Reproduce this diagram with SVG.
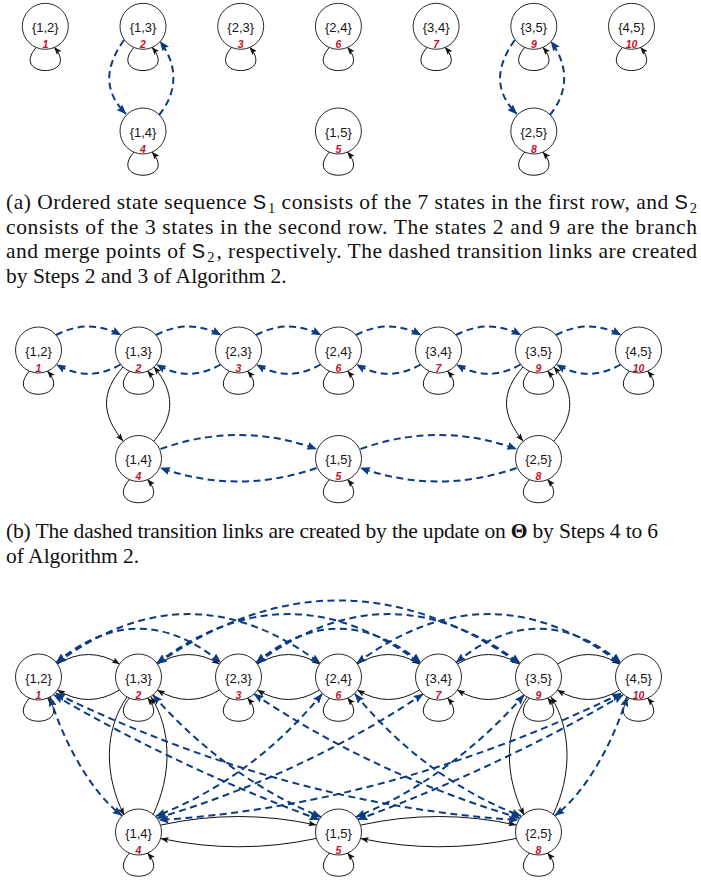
<svg xmlns="http://www.w3.org/2000/svg" xmlns:xlink="http://www.w3.org/1999/xlink" width="701" height="884" viewBox="0 0 701 884">
  <style>
    .st circle { fill: #fff; stroke: #2b2b2b; stroke-width: 1; }
    .lbl { font-family: "Liberation Sans", Arial, sans-serif; font-size: 13px; text-anchor: middle; fill: #151515; }
    .num { font-family: "Liberation Sans", Arial, sans-serif; font-size: 10.5px; font-weight: bold; font-style: italic; text-anchor: middle; fill: #c8102e; }
    .sl { fill: none; stroke: #111; stroke-width: 1; marker-end: url(#ah); }
    .dl { fill: none; stroke: #0b3c82; stroke-width: 2; stroke-dasharray: 7 4.5; marker-end: url(#bh); }
    .dl2 { fill: none; stroke: #0b3c82; stroke-width: 2; stroke-dasharray: 7 4.5; marker-start: url(#bh); marker-end: url(#bh); }
    .cap { font-family: "Liberation Serif", "Times New Roman", serif; font-size: 21.5px; fill: #111; }
    .sf { font-family: "Liberation Sans", Arial, sans-serif; font-size: 20px; }
    .sub { font-size: 14.5px; }
  </style>
  <defs>
    <marker id="ah" viewBox="0 0 8 6" refX="7.6" refY="3" markerWidth="8" markerHeight="6" markerUnits="userSpaceOnUse" orient="auto">
      <path d="M0,0 L8,3 L0,6 L1.6,3 z" fill="#111"/>
    </marker>
    <marker id="bh" viewBox="0 0 10 8" refX="9.5" refY="4" markerWidth="10" markerHeight="8" markerUnits="userSpaceOnUse" orient="auto-start-reverse">
      <path d="M0,0 L10,4 L0,8 L1.5,4 z" fill="#0b3c82"/>
    </marker>
    <!-- self transition drawn below a state, relative to its centre -->
    <path id="loop" d="M-9,21 C-36,52 36,52 9,21" fill="none" stroke="#111" stroke-width="1" marker-end="url(#ah)"/>
  </defs>

  <!-- ===================== (a) ===================== -->
  <g id="a-states" class="st">
    <g id="a-s1" transform="translate(45.3,26.3)"><circle r="23"/><text class="lbl" y="5.5">{1,2}</text><text class="num" y="21.5">1</text></g>
    <g id="a-s2" transform="translate(143,26.3)"><circle r="23"/><text class="lbl" y="5.5">{1,3}</text><text class="num" y="21.5">2</text></g>
    <g id="a-s3" transform="translate(240.7,26.3)"><circle r="23"/><text class="lbl" y="5.5">{2,3}</text><text class="num" y="21.5">3</text></g>
    <g id="a-s6" transform="translate(338.4,26.3)"><circle r="23"/><text class="lbl" y="5.5">{2,4}</text><text class="num" y="21.5">6</text></g>
    <g id="a-s7" transform="translate(436.1,26.3)"><circle r="23"/><text class="lbl" y="5.5">{3,4}</text><text class="num" y="21.5">7</text></g>
    <g id="a-s9" transform="translate(533.8,26.3)"><circle r="23"/><text class="lbl" y="5.5">{3,5}</text><text class="num" y="21.5">9</text></g>
    <g id="a-s10" transform="translate(631.5,26.3)"><circle r="23"/><text class="lbl" y="5.5">{4,5}</text><text class="num" y="21.5">10</text></g>
    <g id="a-s4" transform="translate(143,131)"><circle r="23"/><text class="lbl" y="5.5">{1,4}</text><text class="num" y="21.5">4</text></g>
    <g id="a-s5" transform="translate(338.4,131)"><circle r="23"/><text class="lbl" y="5.5">{1,5}</text><text class="num" y="21.5">5</text></g>
    <g id="a-s8" transform="translate(533.8,131)"><circle r="23"/><text class="lbl" y="5.5">{2,5}</text><text class="num" y="21.5">8</text></g>
  </g>
  <g id="a-links">
    <use xlink:href="#loop" href="#loop" x="45.3" y="26.3"/>
    <use xlink:href="#loop" href="#loop" x="143" y="26.3"/>
    <use xlink:href="#loop" href="#loop" x="240.7" y="26.3"/>
    <use xlink:href="#loop" href="#loop" x="338.4" y="26.3"/>
    <use xlink:href="#loop" href="#loop" x="436.1" y="26.3"/>
    <use xlink:href="#loop" href="#loop" x="533.8" y="26.3"/>
    <use xlink:href="#loop" href="#loop" x="631.5" y="26.3"/>
    <use xlink:href="#loop" href="#loop" x="143" y="131"/>
    <use xlink:href="#loop" href="#loop" x="338.4" y="131"/>
    <use xlink:href="#loop" href="#loop" x="533.8" y="131"/>
    <path class="dl" d="M124,40 C104,68 104,92 126,114"/>
    <path class="dl" d="M159,115 C178,92 178,65 160,41.5"/>
    <path class="dl" d="M514.8,40 C494.8,68 494.8,92 516.8,114"/>
    <path class="dl" d="M549.8,115 C568.8,92 568.8,65 550.8,41.5"/>
  </g>
  <g id="caption-a" class="cap">
    <text x="6" y="209" textLength="691" lengthAdjust="spacing">(a) Ordered state sequence <tspan class="sf">S</tspan><tspan class="sub" dx="1.5" dy="4">1</tspan><tspan dy="-4"> consists of the 7 states in the first row, and </tspan><tspan class="sf">S</tspan><tspan class="sub" dx="1.5" dy="4">2</tspan></text>
    <text x="6" y="233.5" textLength="691" lengthAdjust="spacing">consists of the 3 states in the second row. The states 2 and 9 are the branch</text>
    <text x="6" y="258" textLength="691" lengthAdjust="spacing">and merge points of <tspan class="sf">S</tspan><tspan class="sub" dx="1.5" dy="4">2</tspan><tspan dx="1.5" dy="-4">, respectively. The dashed transition links are created</tspan></text>
    <text x="6" y="282.5">by Steps 2 and 3 of Algorithm 2.</text>
  </g>

  <!-- ===================== (b) ===================== -->
  <g id="b-states" class="st">
    <g id="b-s1" transform="translate(38.5,350)"><circle r="23"/><text class="lbl" y="5.5">{1,2}</text><text class="num" y="21.5">1</text></g>
    <g id="b-s2" transform="translate(138.5,350)"><circle r="23"/><text class="lbl" y="5.5">{1,3}</text><text class="num" y="21.5">2</text></g>
    <g id="b-s3" transform="translate(238.5,350)"><circle r="23"/><text class="lbl" y="5.5">{2,3}</text><text class="num" y="21.5">3</text></g>
    <g id="b-s6" transform="translate(338.5,350)"><circle r="23"/><text class="lbl" y="5.5">{2,4}</text><text class="num" y="21.5">6</text></g>
    <g id="b-s7" transform="translate(438.5,350)"><circle r="23"/><text class="lbl" y="5.5">{3,4}</text><text class="num" y="21.5">7</text></g>
    <g id="b-s9" transform="translate(538.5,350)"><circle r="23"/><text class="lbl" y="5.5">{3,5}</text><text class="num" y="21.5">9</text></g>
    <g id="b-s10" transform="translate(638.5,350)"><circle r="23"/><text class="lbl" y="5.5">{4,5}</text><text class="num" y="21.5">10</text></g>
    <g id="b-s4" transform="translate(138.5,458.5)"><circle r="23"/><text class="lbl" y="5.5">{1,4}</text><text class="num" y="21.5">4</text></g>
    <g id="b-s5" transform="translate(338.5,458.5)"><circle r="23"/><text class="lbl" y="5.5">{1,5}</text><text class="num" y="21.5">5</text></g>
    <g id="b-s8" transform="translate(538.5,458.5)"><circle r="23"/><text class="lbl" y="5.5">{2,5}</text><text class="num" y="21.5">8</text></g>
  </g>
  <g id="b-links">
    <use xlink:href="#loop" href="#loop" x="38.5" y="350"/>
    <use xlink:href="#loop" href="#loop" x="138.5" y="350"/>
    <use xlink:href="#loop" href="#loop" x="238.5" y="350"/>
    <use xlink:href="#loop" href="#loop" x="338.5" y="350"/>
    <use xlink:href="#loop" href="#loop" x="438.5" y="350"/>
    <use xlink:href="#loop" href="#loop" x="538.5" y="350"/>
    <use xlink:href="#loop" href="#loop" x="638.5" y="350"/>
    <use xlink:href="#loop" href="#loop" x="138.5" y="458.5"/>
    <use xlink:href="#loop" href="#loop" x="338.5" y="458.5"/>
    <use xlink:href="#loop" href="#loop" x="538.5" y="458.5"/>
    <!-- existing branch / merge transitions -->
    <path class="sl" d="M123,367 C101,392 101,414 123,441"/>
    <path class="sl" d="M154,441 C175,416 175,392 154,367"/>
    <path class="sl" d="M523,367 C501,392 501,414 523,441"/>
    <path class="sl" d="M554,441 C575,416 575,392 554,367"/>
    <!-- forward along the first row -->
    <path class="dl" d="M56,335 Q88.5,318 121,335"/>
    <path class="dl" d="M156,335 Q188.5,318 221,335"/>
    <path class="dl" d="M256,335 Q288.5,318 321,335"/>
    <path class="dl" d="M356,335 Q388.5,318 421,335"/>
    <path class="dl" d="M456,335 Q488.5,318 521,335"/>
    <path class="dl" d="M556,335 Q588.5,318 621,335"/>
    <!-- backward along the first row -->
    <path class="dl" d="M120.5,364.5 Q88.5,383 56.5,364.5"/>
    <path class="dl" d="M220.5,364.5 Q188.5,383 156.5,364.5"/>
    <path class="dl" d="M320.5,364.5 Q288.5,383 256.5,364.5"/>
    <path class="dl" d="M420.5,364.5 Q388.5,383 356.5,364.5"/>
    <path class="dl" d="M520.5,364.5 Q488.5,383 456.5,364.5"/>
    <path class="dl" d="M620.5,364.5 Q588.5,383 556.5,364.5"/>
    <!-- second row -->
    <path class="dl" d="M160.5,449 Q238.5,421 316.5,449"/>
    <path class="dl" d="M316.5,468 Q238.5,495 160.5,468"/>
    <path class="dl" d="M360.5,449 Q438.5,421 516.5,449"/>
    <path class="dl" d="M516.5,468 Q438.5,495 360.5,468"/>
  </g>
  <g id="caption-b" class="cap">
    <text x="6" y="538" textLength="652" lengthAdjust="spacing">(b) The dashed transition links are created by the update on <tspan font-weight="bold">Θ</tspan> by Steps 4 to 6</text>
    <text x="6" y="562.5">of Algorithm 2.</text>
  </g>

  <!-- ===================== (c) ===================== -->
  <g id="c-states" class="st">
    <g id="c-s1" transform="translate(38.5,677)"><circle r="23"/><text class="lbl" y="5.5">{1,2}</text><text class="num" y="21.5">1</text></g>
    <g id="c-s2" transform="translate(138.5,677)"><circle r="23"/><text class="lbl" y="5.5">{1,3}</text><text class="num" y="21.5">2</text></g>
    <g id="c-s3" transform="translate(238.5,677)"><circle r="23"/><text class="lbl" y="5.5">{2,3}</text><text class="num" y="21.5">3</text></g>
    <g id="c-s6" transform="translate(338.5,677)"><circle r="23"/><text class="lbl" y="5.5">{2,4}</text><text class="num" y="21.5">6</text></g>
    <g id="c-s7" transform="translate(438.5,677)"><circle r="23"/><text class="lbl" y="5.5">{3,4}</text><text class="num" y="21.5">7</text></g>
    <g id="c-s9" transform="translate(538.5,677)"><circle r="23"/><text class="lbl" y="5.5">{3,5}</text><text class="num" y="21.5">9</text></g>
    <g id="c-s10" transform="translate(638.5,677)"><circle r="23"/><text class="lbl" y="5.5">{4,5}</text><text class="num" y="21.5">10</text></g>
    <g id="c-s4" transform="translate(138.5,832)"><circle r="23"/><text class="lbl" y="5.5">{1,4}</text><text class="num" y="21.5">4</text></g>
    <g id="c-s5" transform="translate(338.5,832)"><circle r="23"/><text class="lbl" y="5.5">{1,5}</text><text class="num" y="21.5">5</text></g>
    <g id="c-s8" transform="translate(538.5,832)"><circle r="23"/><text class="lbl" y="5.5">{2,5}</text><text class="num" y="21.5">8</text></g>
  </g>
  <g id="c-links">
    <use xlink:href="#loop" href="#loop" x="38.5" y="677"/>
    <use xlink:href="#loop" href="#loop" x="138.5" y="677"/>
    <use xlink:href="#loop" href="#loop" x="238.5" y="677"/>
    <use xlink:href="#loop" href="#loop" x="338.5" y="677"/>
    <use xlink:href="#loop" href="#loop" x="438.5" y="677"/>
    <use xlink:href="#loop" href="#loop" x="538.5" y="677"/>
    <use xlink:href="#loop" href="#loop" x="638.5" y="677"/>
    <use xlink:href="#loop" href="#loop" x="138.5" y="832"/>
    <use xlink:href="#loop" href="#loop" x="338.5" y="832"/>
    <use xlink:href="#loop" href="#loop" x="538.5" y="832"/>
    <!-- solid transitions between neighbours -->
    <path class="sl" d="M57.5,664 Q88.5,645 119.5,664"/>
    <path class="sl" d="M157.5,664 Q188.5,645 219.5,664"/>
    <path class="sl" d="M257.5,664 Q288.5,645 319.5,664"/>
    <path class="sl" d="M357.5,664 Q388.5,645 419.5,664"/>
    <path class="sl" d="M457.5,664 Q488.5,645 519.5,664"/>
    <path class="sl" d="M557.5,664 Q588.5,645 619.5,664"/>
    <path class="sl" d="M119.5,690 Q88.5,709 57.5,690"/>
    <path class="sl" d="M219.5,690 Q188.5,709 157.5,690"/>
    <path class="sl" d="M319.5,690 Q288.5,709 257.5,690"/>
    <path class="sl" d="M419.5,690 Q388.5,709 357.5,690"/>
    <path class="sl" d="M519.5,690 Q488.5,709 457.5,690"/>
    <path class="sl" d="M619.5,690 Q588.5,709 557.5,690"/>
    <path class="sl" d="M127,697 C104,730 104,775 124,815"/>
    <path class="sl" d="M153,815 C172,775 172,730 151,697"/>
    <path class="sl" d="M527,697 C504,730 504,775 524,815"/>
    <path class="sl" d="M553,815 C572,775 572,730 551,697"/>
    <path class="sl" d="M161,825 Q238.5,808 316,825"/>
    <path class="sl" d="M316,838.5 Q238.5,855 161,838.5"/>
    <path class="sl" d="M361,825 Q438.5,808 516,825"/>
    <path class="sl" d="M516,838.5 Q438.5,855 361,838.5"/>
    <!-- dashed arcs over the first row -->
    <path class="dl2" d="M56.3,662.4 Q138.5,595 220.7,662.4"/>
    <path class="dl2" d="M256.3,662.4 Q338.5,595 420.7,662.4"/>
    <path class="dl2" d="M456.3,662.4 Q538.5,595 620.7,662.4"/>
    <path class="dl2" d="M56.9,663.2 Q188.5,565 320.1,663.2"/>
    <path class="dl2" d="M156.9,663.2 Q288.5,565 420.1,663.2"/>
    <path class="dl2" d="M256.9,663.2 Q388.5,565 520.1,663.2"/>
    <path class="dl2" d="M356.9,663.2 Q488.5,565 620.1,663.2"/>
    <path class="dl2" d="M157.3,663.8 Q338.5,537 519.7,663.8"/>
    <!-- dashed links between the two rows -->
    <path class="dl2" d="M50,697 C62,738 90,792 122,815.5"/>
    <path class="dl2" d="M627,697 C615,738 587,792 555,815.5"/>
    <path class="dl2" d="M54,695 Q179,768 319,819.5"/>
    <path class="dl2" d="M623,695 Q498,768 358,819.5"/>
    <path class="dl2" d="M56,693.5 Q287.5,805.5 518,820"/>
    <path class="dl2" d="M621,693.5 Q389.5,805.5 159,820"/>
    <path class="dl2" d="M153,695 Q225.5,777.5 321,817"/>
    <path class="dl2" d="M524,695 Q451.5,777.5 356,817"/>
    <path class="dl2" d="M254,694 Q375,775 519.5,818"/>
    <path class="dl2" d="M423,694 Q302,775 157.5,818"/>
    <path class="dl2" d="M355,694 Q426,779.5 521,816"/>
    <path class="dl2" d="M322,694 Q251,779.5 156,816"/>
  </g>
</svg>
